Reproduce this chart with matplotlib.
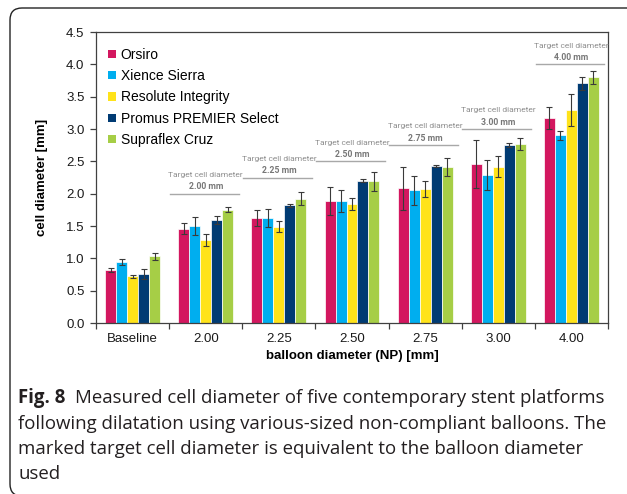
import matplotlib.pyplot as plt
import numpy as np
from matplotlib.patches import Patch, FancyBboxPatch

groups = ['Baseline', '2.00', '2.25', '2.50', '2.75', '3.00', '4.00']
stents = ['Orsiro', 'Xience Sierra', 'Resolute Integrity',
          'Promus PREMIER Select', 'Supraflex Cruz']
colors = ['#D3175F', '#00AEEF', '#FFE31A', '#003B73', '#A6CE46']

orsiro = [0.82, 1.46, 1.62, 1.89, 2.08, 2.46, 3.17]
orsiro_err = [0.03, 0.09, 0.12, 0.22, 0.33, 0.37, 0.17]
xience = [0.94, 1.50, 1.63, 1.88, 2.05, 2.29, 2.90]
xience_err = [0.05, 0.14, 0.14, 0.17, 0.22, 0.23, 0.07]
resolute = [0.72, 1.28, 1.49, 1.84, 2.07, 2.42, 3.29]
resolute_err = [0.02, 0.09, 0.09, 0.10, 0.12, 0.16, 0.25]
promus = [0.76, 1.59, 1.82, 2.20, 2.43, 2.75, 3.71]
promus_err = [0.08, 0.06, 0.02, 0.02, 0.02, 0.03, 0.10]
supraflex = [1.03, 1.75, 1.92, 2.19, 2.41, 2.77, 3.80]
supraflex_err = [0.06, 0.04, 0.10, 0.15, 0.14, 0.09, 0.10]

# target cell diameter markers for the balloon groups
targets = [2.00, 2.25, 2.50, 2.75, 3.00, 4.00]

values = [orsiro, xience, resolute, promus, supraflex]
errors = [orsiro_err, xience_err, resolute_err, promus_err, supraflex_err]

plt.rcParams['font.family'] = ['Liberation Sans', 'DejaVu Sans']

fig = plt.figure(figsize=(6.27, 4.94), dpi=100)
ax = fig.add_axes([96 / 627, 1 - 323 / 494, 512 / 627, 291 / 494])

x = np.arange(len(groups))
w = 0.15
for k in range(len(stents)):
    ax.bar(x + (k - 2) * w, values[k], w, color=colors[k],
           edgecolor='white', linewidth=0.5, zorder=2)
    ax.errorbar(x + (k - 2) * w, values[k], yerr=errors[k], fmt='none',
                ecolor='#3a3a3a', elinewidth=0.8, capsize=2, capthick=0.8,
                zorder=3)

narrow = ['Liberation Sans Narrow', 'DejaVu Sans Condensed', 'Roboto']
for i, t in enumerate(targets):
    gx = i + 1
    ax.plot([gx - 0.49, gx + 0.45], [t, t], color='#a8a8a8', lw=1.0, zorder=3)
    ax.annotate('Target cell diameter', (gx, t), xytext=(0, 13.5),
                textcoords='offset points', ha='center', va='center',
                fontsize=6.0, color='#8f8f8f', family=narrow)
    ax.annotate(f'{t:.2f} mm', (gx, t), xytext=(0, 5),
                textcoords='offset points', ha='center', va='center',
                fontsize=6.2, color='#777777', fontweight='bold', family=narrow)

ax.set_xlim(-0.5, len(groups) - 0.5)
ax.set_ylim(0, 4.5)
ax.set_yticks(np.arange(0, 4.51, 0.5))
ax.set_yticklabels([f'{v:.1f}' for v in np.arange(0, 4.51, 0.5)])
ax.set_xticks(x)
ax.set_xticklabels(groups)
ax.set_xticks(np.arange(-0.5, len(groups), 1.0), minor=True)
ax.tick_params(axis='x', which='major', length=0, pad=7.5, labelsize=9.5,
               colors='#1a1a1a')
ax.tick_params(axis='x', which='minor', length=4, direction='out',
               color='#404040', width=0.9)
ax.tick_params(axis='y', length=4, direction='out', pad=4.3, labelsize=9.5,
               color='#404040', width=0.9, labelcolor='#1a1a1a')
for s in ax.spines.values():
    s.set_color('#404040')
    s.set_linewidth(0.9)

ax.set_ylabel('cell diameter [mm]', fontsize=9.5, fontweight='bold')
ax.yaxis.set_label_coords(-0.093, 0.5)
ax.set_xlabel('balloon diameter (NP) [mm]', fontsize=9.5, fontweight='bold')
ax.xaxis.set_label_coords(0.5, -0.093)

handles = [Patch(facecolor=c, edgecolor='none') for c in colors]
ax.legend(handles, stents, loc='upper left', bbox_to_anchor=(0.024, 0.945),
          frameon=False, fontsize=10, handlelength=0.55, handleheight=0.55,
          handletextpad=0.35, labelspacing=0.52, borderpad=0, borderaxespad=0)

# rounded outer frame of the figure panel
frame = FancyBboxPatch((0.10, -0.02), 7.0, 4.88,
                       boxstyle='round,pad=0,rounding_size=0.12',
                       transform=fig.dpi_scale_trans, fill=False,
                       edgecolor='#222222', linewidth=1.0)
fig.add_artist(frame)

cap = dict(family=['Open Sans', 'DejaVu Sans'], fontsize=13.4,
           color='#231f20', va='center', ha='left')
fig.text(18 / 627, 1 - 398 / 494, 'Fig. 8', fontweight='bold', **cap)
fig.text(75 / 627, 1 - 398 / 494,
         'Measured cell diameter of five contemporary stent platforms', **cap)
fig.text(18 / 627, 1 - 424 / 494,
         'following dilatation using various-sized non-compliant balloons. The',
         **cap)
fig.text(18 / 627, 1 - 449 / 494,
         'marked target cell diameter is equivalent to the balloon diameter',
         **cap)
fig.text(18 / 627, 1 - 474 / 494, 'used', **cap)

fig.savefig('out.png', dpi=100)
